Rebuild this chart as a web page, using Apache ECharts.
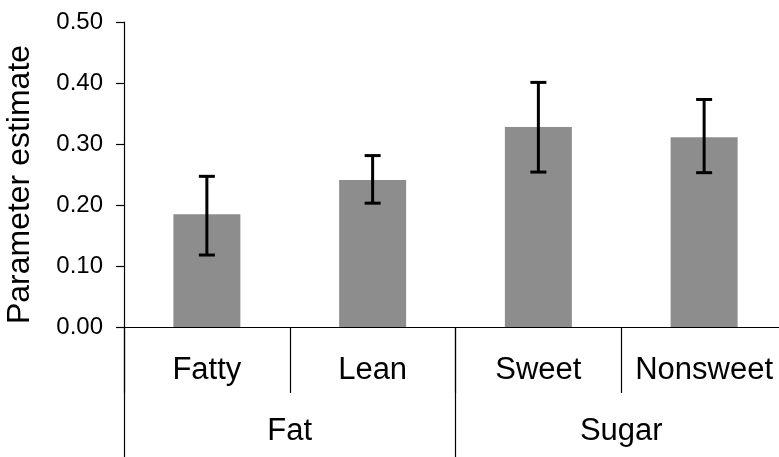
<!DOCTYPE html>
<html>
<head>
<meta charset="utf-8">
<script src="https://cdn.jsdelivr.net/npm/echarts@6/dist/echarts.min.js"></script>
<style>
  html, body { margin: 0; padding: 0; background: #fff; }
  #chart { width: 779px; height: 457px; }
</style>
</head>
<body>
<div id="chart"></div>
<script>
const categories = ['Fatty', 'Lean', 'Sweet', 'Nonsweet']
const groups = ['Fat', 'Sugar']
const estimates = [0.185, 0.241, 0.328, 0.311]
const errLow = [0.118, 0.203, 0.254, 0.253]
const errHigh = [0.247, 0.281, 0.401, 0.373]

const font = '"Liberation Sans", Arial, Helvetica, sans-serif'

const chart = echarts.init(document.getElementById('chart'))

const option = {
  animation: false,
  grid: { left: 124, top: 22, width: 663, bottom: 130, outerBoundsMode: 'none', containLabel: false },
  xAxis: [
    {
      type: 'category',
      data: categories,
      axisLine: { lineStyle: { color: '#000', width: 1.2 } },
      axisTick: { show: true, interval: 0, length: 66, lineStyle: { color: '#000', width: 1.2 } },
      axisLabel: { interval: 0, hideOverlap: false, color: '#000', fontSize: 31, fontFamily: font, margin: 28 },
    },
    {
      type: 'category',
      position: 'bottom',
      data: groups,
      axisLine: { show: false },
      axisTick: { show: true, interval: 0, length: 140, lineStyle: { color: '#000', width: 1.2 } },
      axisLabel: { interval: 0, color: '#000', fontSize: 31, fontFamily: font, margin: 89 },
    },
  ],
  yAxis: {
    type: 'value',
    min: 0,
    max: 0.5,
    interval: 0.1,
    name: 'Parameter estimate',
    nameLocation: 'middle',
    nameGap: 88,
    nameTextStyle: { color: '#000', fontSize: 32, fontFamily: font, padding: [0, 20, 0, 0] },
    axisLine: { show: true, lineStyle: { color: '#000', width: 1.2 } },
    axisTick: { show: true, length: 8, lineStyle: { color: '#000', width: 1.2 } },
    axisLabel: {
      color: '#000',
      fontSize: 24,
      fontFamily: font,
      margin: 21,
      formatter: (v) => v.toFixed(2),
    },
    splitLine: { show: false },
  },
  series: [
    {
      type: 'bar',
      data: estimates,
      barWidth: 67,
      itemStyle: { color: '#8d8d8d' },
    },
    {
      type: 'custom',
      data: categories.map((c, i) => [i, errLow[i], errHigh[i]]),
      renderItem: (params, api) => {
        const x = api.value(0)
        const lo = api.coord([x, api.value(1)])
        const hi = api.coord([x, api.value(2)])
        const hw = 8
        const style = { stroke: '#000', lineWidth: 3 }
        return {
          type: 'group',
          children: [
            { type: 'line', shape: { x1: lo[0], y1: lo[1], x2: hi[0], y2: hi[1] }, style },
            { type: 'line', shape: { x1: hi[0] - hw, y1: hi[1], x2: hi[0] + hw, y2: hi[1] }, style },
            { type: 'line', shape: { x1: lo[0] - hw, y1: lo[1], x2: lo[0] + hw, y2: lo[1] }, style },
          ],
        }
      },
      z: 10,
    },
  ],
}

chart.setOption(option)
</script>
</body>
</html>
